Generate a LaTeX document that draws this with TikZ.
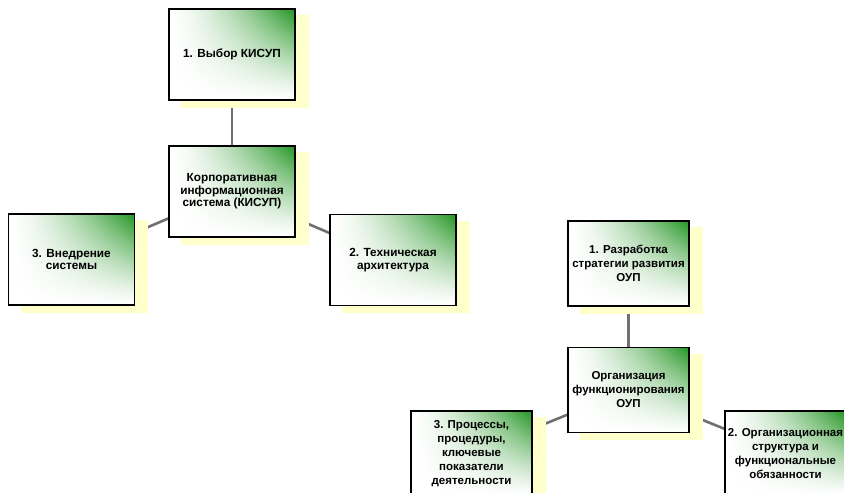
\documentclass[tikz,border=0pt]{standalone}
\usepackage{fontspec}
\setmainfont{Liberation Sans}
\pgfdeclarelayer{background}
\pgfdeclarelayer{shadowlayer}
\pgfsetlayers{background,shadowlayer,main}
\pgfdeclarefunctionalshading{greencorner}{\pgfpointorigin}{\pgfpoint{100bp}{100bp}}{}{%
  25 sub 50 div dup 0 lt {pop 0} if dup 1 gt {pop 1} if dup sqrt sqrt mul
  exch
  25 sub 50 div dup 0 lt {pop 0} if dup 1 gt {pop 1} if dup sqrt mul
  mul
  dup dup 0.87 mul 1 exch sub 3 1 roll
  0.42 mul 1 exch sub exch 0.87 mul 1 exch sub}
\definecolor{shadowyellow}{HTML}{FFFFCC}
\definecolor{linkgray}{HTML}{707070}
\tikzset{
  box/.style={draw=black, line width=1.1pt, shading=greencorner, align=center,
    inner sep=0pt, text=black},
  lbox/.style={box, minimum width=126pt, minimum height=91pt,
    font=\bfseries\fontsize{11.8}{12.6}\selectfont},
  rbox/.style={box, minimum width=121pt, minimum height=85pt,
    font=\bfseries\fontsize{11.5}{14}\selectfont},
  link/.style={draw=linkgray, line width=2.6pt},
  shadowbox/.style={fill=shadowyellow, draw=none}
}
\begin{document}
\begin{tikzpicture}[x=1pt, y=-1pt]
\useasboundingbox (0,0) rectangle (844,493);
\clip (0,0) rectangle (844,493);
% left group
\node[lbox] (b1) at (232,54.5) {1. Выбор КИСУП};
\node[lbox] (bc) at (232,191.5) {Корпоративная\\информационная\\система (КИСУП)};
\node[lbox] (b3) at (71.5,259.5) {3. Внедрение\\системы};
\node[lbox] (b2) at (393,260) {2. Техническая\\архитектура};
% right group
\node[rbox] (r1) at (628.5,263.5) {1. Разработка\\стратегии развития\\ОУП};
\node[rbox] (rc) at (628.5,390) {Организация\\функционирования\\ОУП};
\node[rbox] (r3) at (471.5,453.5) {3. Процессы,\\процедуры,\\ключевые\\показатели\\деятельности};
\node[rbox] (r2) at (785.5,453.5) {2. Организационная\\структура и\\функциональные\\обязанности};
\begin{pgfonlayer}{shadowlayer}
\foreach \n in {b1,bc,b3,b2,r1,rc,r3,r2}
  \fill[shadowbox] ([shift={(13,7)}]\n.north west) rectangle ([shift={(13,7)}]\n.south east);
\end{pgfonlayer}
\begin{pgfonlayer}{background}
\fill[white] (0,0) rectangle (844,493);
\draw[link] (bc.center) -- (b1.center);
\draw[link] (bc.center) -- (b3.center);
\draw[link] (bc.center) -- (b2.center);
\draw[link] (rc.center) -- (r1.center);
\draw[link] (rc.center) -- (r3.center);
\draw[link] (rc.center) -- (r2.center);
\end{pgfonlayer}
\end{tikzpicture}
\end{document}
